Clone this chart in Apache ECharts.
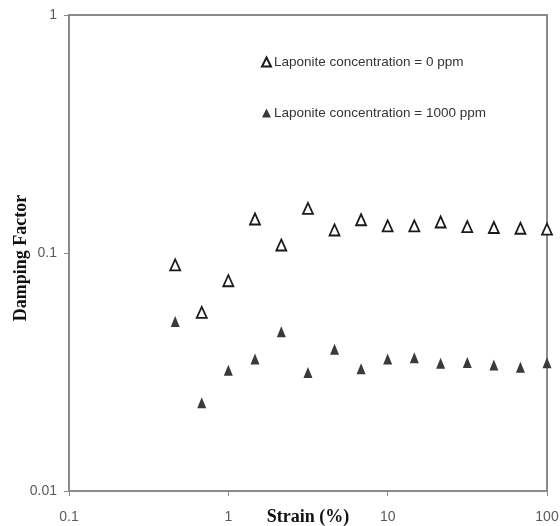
<!DOCTYPE html>
<html>
<head>
<meta charset="utf-8">
<script src="https://cdn.jsdelivr.net/npm/echarts@6/dist/echarts.min.js"></script>
<style>
html,body{margin:0;padding:0;background:#fff;}
#chart{width:560px;height:526px;}
</style>
</head>
<body>
<div id="chart"></div>
<script>
// Data
var strain = [0.464, 0.681, 1, 1.47, 2.15, 3.16, 4.64, 6.81, 10, 14.7, 21.5, 31.6, 46.4, 68.1, 100];
var damping0ppm = [0.0891, 0.0563, 0.0765, 0.139, 0.108, 0.154, 0.125, 0.138, 0.130, 0.130, 0.135, 0.129, 0.128, 0.127, 0.126];
var damping1000ppm = [0.0515, 0.0235, 0.0322, 0.0359, 0.0467, 0.0315, 0.0394, 0.0326, 0.0359, 0.0363, 0.0344, 0.0347, 0.0338, 0.0331, 0.0346];
var seriesNames = ['Laponite concentration = 0 ppm', 'Laponite concentration = 1000 ppm'];
var xTickLabels = ['0.1', '1', '10', '100'];
var yTickLabels = ['0.01', '0.1', '1'];

function pairs(xs, ys) { return xs.map(function (x, i) { return [x, ys[i]]; }); }
function fmt(labels) {
  return function (v) {
    for (var i = 0; i < labels.length; i++) {
      if (Math.abs(parseFloat(labels[i]) - v) / parseFloat(labels[i]) < 1e-6) return labels[i];
    }
    return '';
  };
}

var chart = echarts.init(document.getElementById('chart'), null, {renderer: 'canvas'});
var axisLabelStyle = {color: '#5a5a5a', fontFamily: 'Liberation Sans', fontSize: 14};
chart.setOption({
  animation: false,
  backgroundColor: '#fff',
  grid: {left: 69, right: 13, top: 15, bottom: 35, containLabel: false, outerBoundsMode: 'none',
         show: true, borderColor: '#8a8a8a', borderWidth: 2, backgroundColor: 'transparent'},
  legend: {
    orient: 'vertical', left: 261, top: 54, padding: 0, itemGap: 35, itemWidth: 9, itemHeight: 9,
    data: seriesNames,
    textStyle: {color: '#333', fontFamily: 'Liberation Sans', fontSize: 13.5, lineHeight: 16, padding: [0, 0, 0, -2]}
  },
  xAxis: {
    type: 'log', logBase: 10, min: 0.1, max: 100,
    name: 'Strain (%)', nameLocation: 'middle', nameGap: 17, nameMoveOverlap: false,
    nameTextStyle: {fontFamily: 'Liberation Serif', fontWeight: 'bold', fontSize: 18, color: '#111'},
    axisLine: {show: true, lineStyle: {color: '#8a8a8a', width: 2}},
    axisTick: {show: true, inside: false, length: 5, lineStyle: {color: '#8a8a8a', width: 1}},
    minorTick: {show: false},
    splitLine: {show: false},
    axisLabel: Object.assign({margin: 19, formatter: fmt(xTickLabels)}, axisLabelStyle)
  },
  yAxis: {
    type: 'log', logBase: 10, min: 0.01, max: 1,
    name: 'Damping Factor', nameLocation: 'middle', nameGap: 39, nameRotate: 90, nameMoveOverlap: false,
    nameTextStyle: {fontFamily: 'Liberation Serif', fontWeight: 'bold', fontSize: 18, color: '#111', padding: [0, 10, 0, 0]},
    axisLine: {show: true, lineStyle: {color: '#8a8a8a', width: 2}},
    axisTick: {show: true, inside: false, length: 5, lineStyle: {color: '#8a8a8a', width: 1}},
    splitLine: {show: false},
    axisLabel: Object.assign({margin: 12, formatter: fmt(yTickLabels)}, axisLabelStyle)
  },
  series: [
    {
      name: seriesNames[0], type: 'scatter', clip: false,
      symbol: 'triangle', symbolSize: [10, 11],
      itemStyle: {color: '#ffffff', borderColor: '#1a1a1a', borderWidth: 1.8, opacity: 1},
      data: pairs(strain, damping0ppm)
    },
    {
      name: seriesNames[1], type: 'scatter', clip: false,
      symbol: 'triangle', symbolSize: [9, 11],
      itemStyle: {color: '#3a3a3a', opacity: 1},
      data: pairs(strain, damping1000ppm)
    }
  ]
});
</script>
</body>
</html>
